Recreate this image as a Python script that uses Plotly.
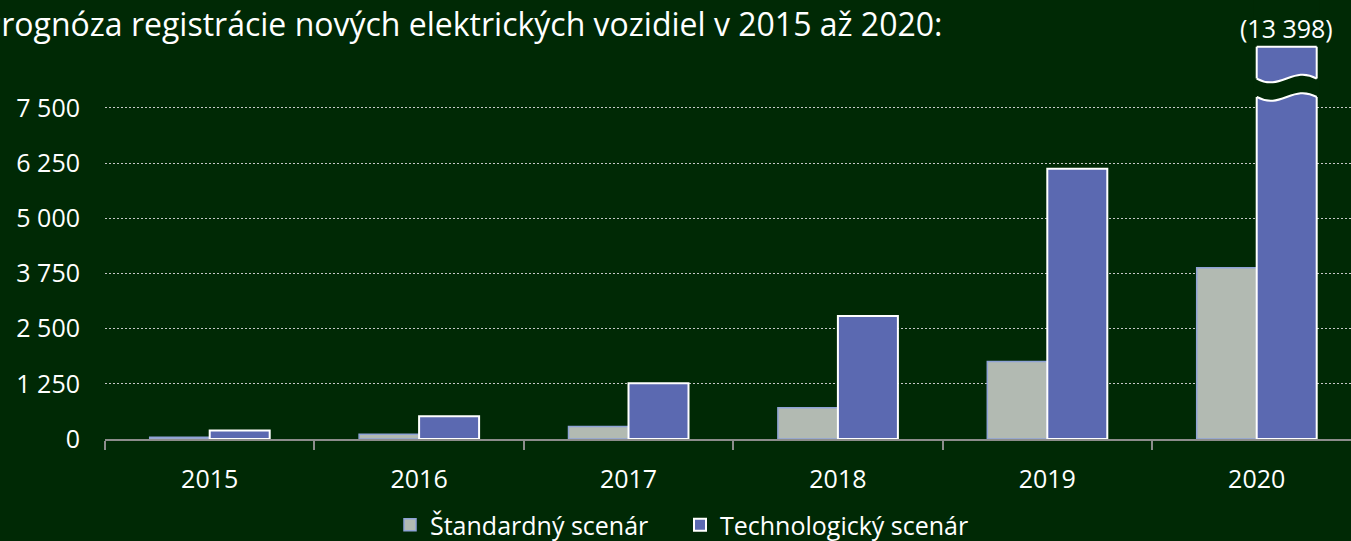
import plotly.graph_objects as go

# ---- data ----
years = ["2015", "2016", "2017", "2018", "2019", "2020"]
standard = [41, 109, 283, 707, 1756, 3877]
technological = [192, 517, 1265, 2783, 6122, 13398]
ytick_vals = [0, 1250, 2500, 3750, 5000, 6250, 7500]
series_names = ["Štandardný scenár", "Technologický scenár"]
title_text = "Prognóza registrácie nových elektrických vozidiel v 2015 až 2020:"

# ---- style ----
BG = "#002905"
GREY = "#b2bab2"
BLUE = "#5b69b1"
FONT = "Open Sans"
FS = 25

W, H = 1351, 541
ML, MR, MT, MB = 105, 0, 0, 102
plot_h = H - MT - MB
plot_w = W - ML - MR
units_per_px = 1250 / 55.2
YMAX = plot_h * units_per_px
cat_px = 209.4
XMAX = -0.5 + plot_w / cat_px
BARGAP = 1 - 2 * 60 / cat_px
bw = (1 - BARGAP) / 2

# break drawing levels (display only) for the clipped bar
LOW, HIGH, CAP = 7745, 8163, 8883
D = 300
e = 0.015

def fmt(v):
    return f"{v:,}".replace(",", " ")

fig = go.Figure()
fig.add_trace(go.Bar(x=years, y=standard, name=series_names[0], offsetgroup="s",
                     marker=dict(color=GREY, line=dict(color="#8fa3d6", width=1.5))))
fig.add_trace(go.Bar(x=years, y=technological, name=series_names[1], offsetgroup="t",
                     marker=dict(color=BLUE, line=dict(color="white", width=2))))

# broken bar decoration for values above the axis range
shapes = []
annotations = []
for i, v in enumerate(technological):
    if v > LOW:
        xa = i
        xb = i + bw
        w = xb - xa
        def wave(y):
            return f"C {xa+0.4*w},{y-D} {xa+0.6*w},{y+D} {xb},{y}"
        def wave_rev(y):
            return f"C {xa+0.6*w},{y+D} {xa+0.4*w},{y-D} {xa},{y}"
        band = (f"M {xa-e},{LOW} L {xa},{LOW} {wave(LOW)} L {xb+e},{LOW} "
                f"L {xb+e},{HIGH} L {xb},{HIGH} {wave_rev(HIGH)} L {xa-e},{HIGH} Z")
        shapes.append(dict(type="path", path=band, xref="x", yref="y",
                           fillcolor=BG, line=dict(width=0), layer="above"))
        shapes.append(dict(type="rect", x0=xa-e, x1=xb+e, y0=CAP, y1=YMAX*1.2,
                           xref="x", yref="y", fillcolor=BG, line=dict(width=0), layer="above"))
        shapes.append(dict(type="path", path=f"M {xa},{LOW} {wave(LOW)}", xref="x", yref="y",
                           line=dict(color="white", width=2), layer="above"))
        shapes.append(dict(type="path", path=f"M {xa},{HIGH} {wave(HIGH)}", xref="x", yref="y",
                           line=dict(color="white", width=2), layer="above"))
        shapes.append(dict(type="line", x0=xa, x1=xb, y0=CAP, y1=CAP, xref="x", yref="y",
                           line=dict(color="white", width=2), layer="above"))
        annotations.append(dict(x=(xa+xb)/2, y=CAP, xref="x", yref="y", text=f"({fmt(v)})",
                                showarrow=False, yanchor="bottom", yshift=0,
                                font=dict(family=FONT, size=FS, color="white")))

annotations.append(dict(x=(-20 - ML) / plot_w, y=1 - 24 / plot_h, xref="paper", yref="paper",
                        text=title_text, showarrow=False, xanchor="left", yanchor="middle",
                        font=dict(family=FONT, size=32, color="white")))

fig.update_layout(
    width=W, height=H, autosize=False,
    margin=dict(l=ML, r=MR, t=MT, b=MB, autoexpand=False),
    paper_bgcolor=BG, plot_bgcolor=BG,
    barmode="group", bargap=BARGAP, bargroupgap=0,
    font=dict(family=FONT, size=FS, color="white"),
    shapes=shapes, annotations=annotations,
    showlegend=True,
    legend=dict(orientation="h", x=(390 - ML) / plot_w, xanchor="left",
                y=-(525 - (H - MB)) / plot_h, yanchor="middle",
                font=dict(family=FONT, size=FS, color="white"),
                itemwidth=30, entrywidth=245, traceorder="normal", bgcolor="rgba(0,0,0,0)"),
    xaxis=dict(type="category", range=[-0.5, XMAX], showgrid=False,
               showline=True, linecolor="#8c8c8c", linewidth=2,
               ticks="outside", tickson="boundaries", ticklen=9, tickwidth=2, tickcolor="#8c8c8c",
               ticklabelstandoff=17, zeroline=False,
               tickfont=dict(family=FONT, size=FS, color="white")),
    yaxis=dict(range=[0, YMAX], tickvals=ytick_vals, ticktext=[fmt(v) for v in ytick_vals],
               showgrid=True, gridcolor="#c8c8c8", gridwidth=1.3, griddash="2px,2px",
               zeroline=False, showline=False, ticks="", ticklabelstandoff=24,
               tickfont=dict(family=FONT, size=FS, color="white")),
)

post = ("document.body.style.margin='0';document.body.style.overflow='hidden';"
        "Plotly.relayout('{plot_id}', {width: %d, height: %d});" % (W, H))
fig.write_html("out.html", config={"responsive": False, "displayModeBar": False}, post_script=post)
